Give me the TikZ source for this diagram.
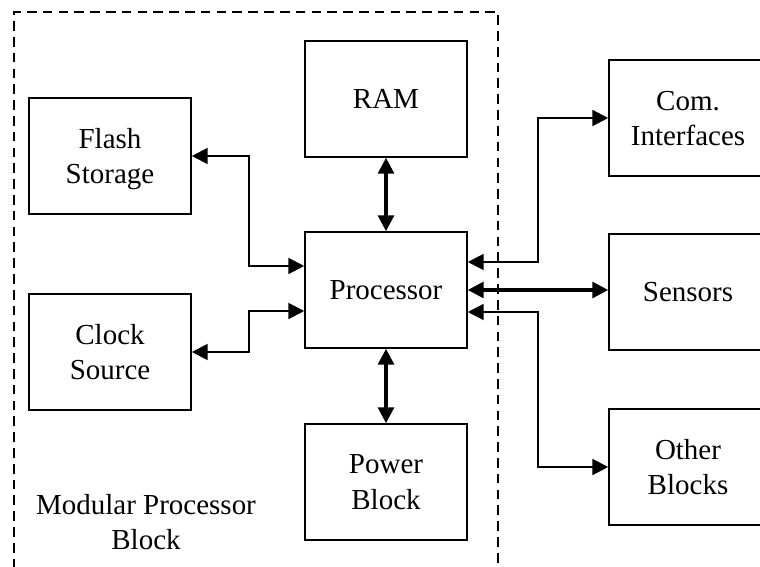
\documentclass[tikz,border=0pt]{standalone}
\usepackage{fontspec}
\setmainfont{Liberation Serif}
\usetikzlibrary{arrows.meta}

\begin{document}
\begin{tikzpicture}[x=0.02cm, y=-0.02cm, font=\fontsize{16.5}{20}\selectfont,
    blk/.style={draw, line width=0.9pt, align=center, text depth=0pt, minimum width=3.24cm, minimum height=2.32cm},
    link/.style={{Triangle[length=9pt,width=9pt]}-{Triangle[length=9pt,width=9pt]}, line width=1.2pt},
    bus/.style={link, line width=1.8pt}]
  \useasboundingbox (0,0) rectangle (760,567);
  % the dashed outline runs off the bottom edge
  \draw[dash pattern=on 5.5pt off 3.5pt, line width=1pt] (14,600) -- (14,12) -- (498,12) -- (498,600);

  \node[blk] (flash) at (110,156) {Flash\\Storage};
  \node[blk] (clock) at (110,352) {Clock\\Source};
  \node[blk] (ram)   at (386,99)  {RAM};
  \node[blk] (proc)  at (386,290) {Processor};
  \node[blk] (pwr)   at (386,482) {Power\\Block};
  \node[align=center] (title) at (146,522) {Modular Processor\\Block};

  \foreach \n/\y/\t in {com/118/{Com.\\Interfaces}, sens/292/{Sensors}, other/467/{Other\\Blocks}}{
    \node[blk, minimum width=3.16cm] (\n) at (688,\y) {\t}; }

  \coordinate (fbend)  at (249,266);
  \coordinate (cbend)  at (249,311);
  \coordinate (cmbend) at (538,262);
  \coordinate (obend)  at (538,312);

  \draw[link] (flash.east) -| (fbend) -- (proc.west |- fbend);
  \draw[link] (clock.east) -| (cbend) -- (proc.west |- cbend);
  \draw[bus] (ram) -- (proc);
  \draw[bus] (proc) -- (pwr);
  \draw[link] (proc.east |- cmbend) -- (cmbend) |- (com.west);
  \draw[bus] (proc.east) -- (proc.east -| sens.west);
  \draw[link] (proc.east |- obend) -- (obend) |- (other.west);
\end{tikzpicture}
\end{document}
